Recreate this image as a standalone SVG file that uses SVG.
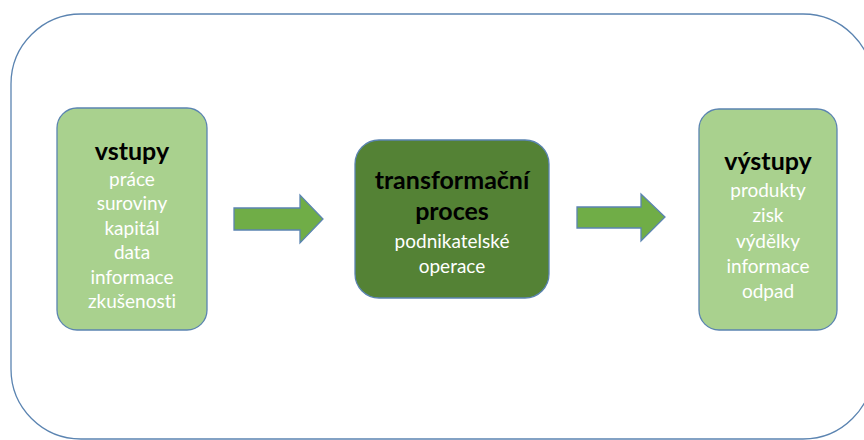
<svg xmlns="http://www.w3.org/2000/svg" width="864" height="440" viewBox="0 0 864 440">
<style>
.frame{fill:#fff;stroke:#5b84b1;stroke-width:1.3}
.light{fill:#a9d18e;stroke:#5b84b1;stroke-width:1.3}
.dark{fill:#548235;stroke:#5b84b1;stroke-width:1.3}
.arrow{fill:#70ad47;stroke:#5b84b1;stroke-width:1.3}
text{font-family:Lato,"Liberation Sans",sans-serif;text-anchor:middle;font-variant-ligatures:none;font-feature-settings:"liga" 0}
.h{font-weight:bold;fill:#000;font-size:25px}
.i{fill:#fff;font-size:19px}
</style>
<rect class="frame" x="11" y="14" width="862" height="425" rx="70" ry="70"/>
<g id="vstupy">
<rect class="light" x="57" y="108" width="150" height="222" rx="20"/>
<text class="h" x="132" y="160">vstupy</text>
<text class="i" x="132" y="186">práce</text>
<text class="i" x="132" y="210">suroviny</text>
<text class="i" x="132" y="235">kapitál</text>
<text class="i" x="132" y="259">data</text>
<text class="i" x="132" y="284">informace</text>
<text class="i" x="132" y="308">zkušenosti</text>
</g>
<g id="proces">
<rect class="dark" x="355" y="140" width="194" height="158" rx="24"/>
<text class="h" x="452" y="189">transformační</text>
<text class="h" x="452" y="220">proces</text>
<text class="i" x="452" y="248">podnikatelské</text>
<text class="i" x="452" y="273">operace</text>
</g>
<g id="vystupy">
<rect class="light" x="699" y="109" width="138" height="221" rx="20"/>
<text class="h" x="768" y="170">výstupy</text>
<text class="i" x="768" y="197">produkty</text>
<text class="i" x="768" y="222">zisk</text>
<text class="i" x="768" y="248">výdělky</text>
<text class="i" x="768" y="273">informace</text>
<text class="i" x="768" y="298">odpad</text>
</g>
<g id="connectors">
<polygon class="arrow" points="234,208 300,208 300,195 323,219 300,243 300,230 234,230"/>
<polygon class="arrow" points="577,207 641,207 641,194 665,217 641,241 641,228 577,228"/>
</g>
</svg>
